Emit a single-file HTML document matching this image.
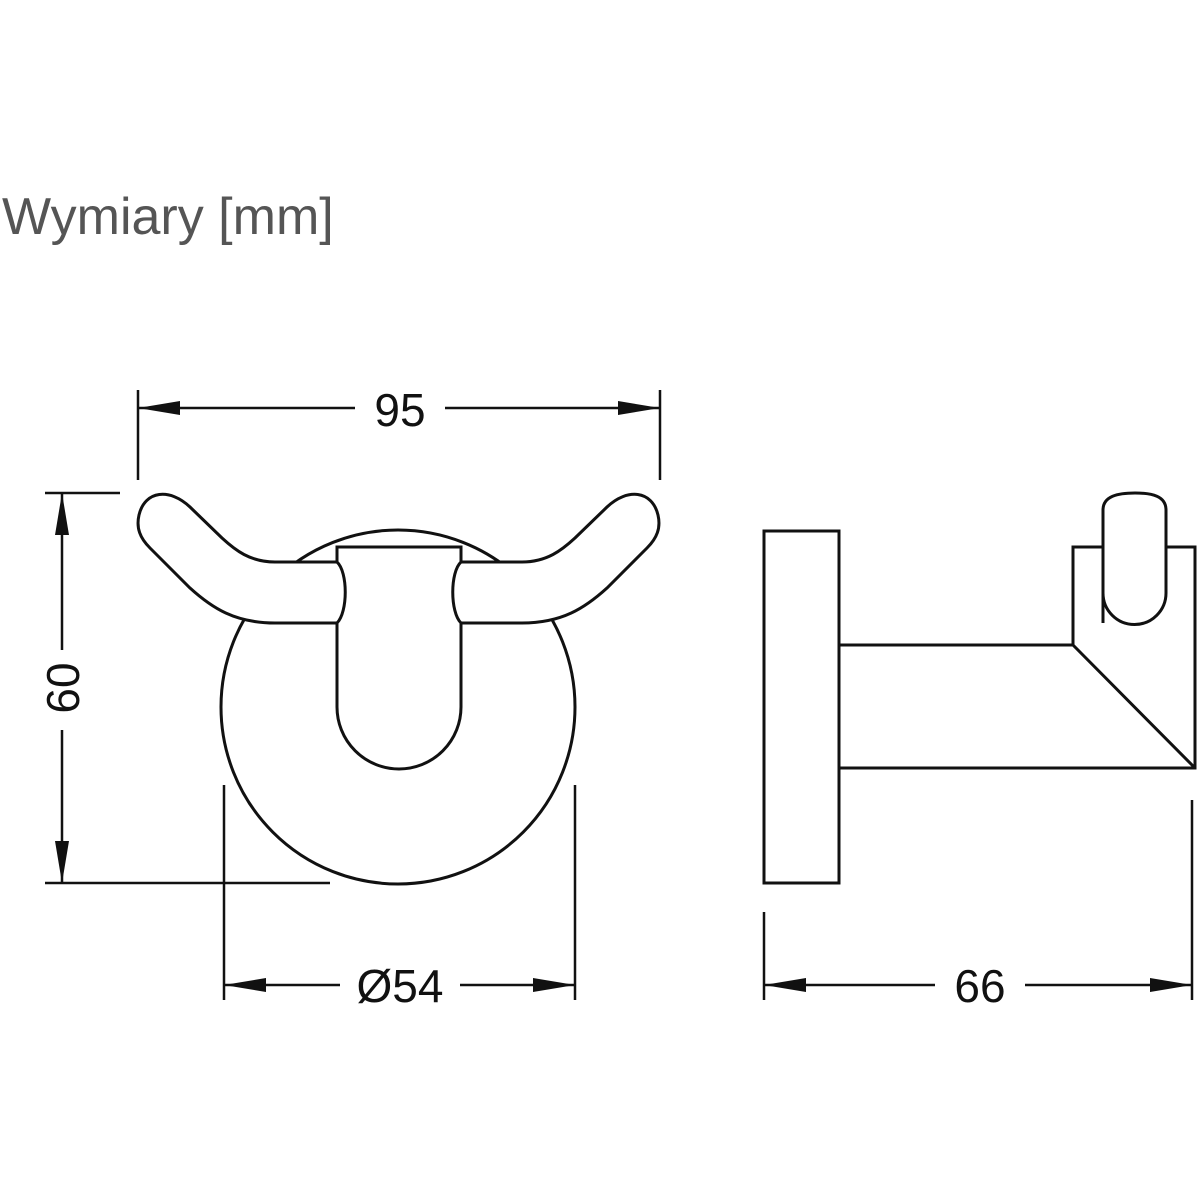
<!DOCTYPE html>
<html><head><style>html,body{margin:0;padding:0;background:#fff;}svg{display:block}</style></head>
<body>
<svg width="1200" height="1200" viewBox="0 0 1200 1200" xmlns="http://www.w3.org/2000/svg">
<rect width="1200" height="1200" fill="#fff"/>
<text x="2" y="234" font-family="Liberation Sans, sans-serif" font-size="52" fill="#555">Wymiary [mm]</text>
<g fill="none" stroke="#111" stroke-width="3">
<circle cx="398" cy="707" r="177"/>
<path fill="#fff" d="M337,562 L275,562 C250,562 235,550 222,538 L190,507 C170,488 145,490 139,515 C136,528 140,538 150,548 L190,588 C212,608 235,623 275,623 L337,623"/>
<path fill="#fff" d="M461,562 L522,562 C547,562 562,550 575,538 L607,507 C627,488 652,490 658,515 C661,528 657,538 647,548 L607,588 C585,608 562,623 522,623 L461,623"/>
<path fill="#fff" d="M337,547 L461,547 L461,562 C450,572 450,612 461,623 L461,707 A62,62 0 0 1 337,707 L337,623 C348,612 348,572 337,562 Z"/>
<rect x="764" y="531" width="75" height="352"/>
<path d="M839,645 L1073,645 L1073,547 L1195,547 L1195,768 L839,768 M1073,645 L1195,768"/>
<path fill="#fff" d="M1103,623 L1103,510 C1103,496 1118,493 1135,493 C1152,493 1166,496 1166,510 L1166,593 A31.5,31.5 0 0 1 1103,593 Z"/>
</g>
<g stroke="#111" stroke-width="2.5" fill="none">
<path d="M138,390 V480 M660,390 V480 M138,408 H355 M445,408 H660"/>
<path d="M45,493 H120 M45,883 H330 M62,493 V650 M62,730 V883"/>
<path d="M224,785 V1000 M575,785 V1000 M224,985 H340 M460,985 H575"/>
<path d="M764,912 V1000 M1192,800 V1000 M764,985 H935 M1025,985 H1192"/>
</g>
<g fill="#111">
<path d="M138,408 L180,401 L180,415 Z M660,408 L618,401 L618,415 Z"/>
<path d="M62,493 L55,535 L69,535 Z M62,883 L55,841 L69,841 Z"/>
<path d="M224,985 L266,978 L266,992 Z M575,985 L533,978 L533,992 Z"/>
<path d="M764,985 L806,978 L806,992 Z M1192,985 L1150,978 L1150,992 Z"/>
</g>
<g font-family="Liberation Sans, sans-serif" font-size="46" fill="#111" text-anchor="middle">
<text x="400" y="426">95</text>
<text x="400" y="1002">Ø54</text>
<text x="980" y="1002">66</text>
<text transform="translate(79,688) rotate(-90)">60</text>
</g>
</svg>
</body></html>
